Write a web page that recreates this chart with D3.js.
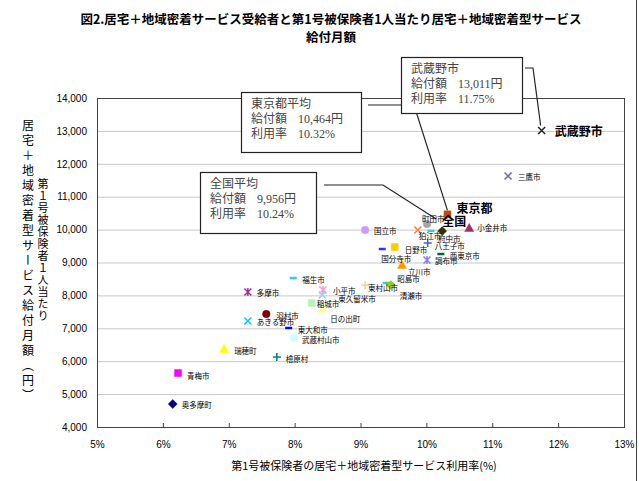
<!DOCTYPE html>
<html>
<head>
<meta charset="utf-8">
<script src="https://cdn.jsdelivr.net/npm/d3@7"></script>
<style>
  body { margin: 0; background: #fff; }
  text { font-family: "Noto Sans CJK JP", "Liberation Sans", sans-serif; }
</style>
</head>
<body>
<div id="chart"></div>
<script>
// municipalities (Tokyo Tama area) + averages
var names = ["武蔵野市","三鷹市","東京都","全国","町田市","狛江市","府中市","八王子市","小金井市","国立市",
             "日野市","国分寺市","西東京市","調布市","立川市","昭島市","清瀬市","東村山市","福生市","多摩市",
             "小平市","東久留米市","稲城市","日の出町","羽村市","あきる野市","東大和市","武蔵村山市","瑞穂町","檜原村",
             "青梅市","奥多摩町"];
// utilisation rate (%)
var rates = [11.75,11.24,10.32,10.24,10.01,9.87,10.07,10.02,10.65,9.07,
             9.52,9.33,10.22,10.01,9.63,9.39,9.46,9.07,7.98,7.29,
             8.43,8.42,8.26,8.42,7.57,7.29,7.91,7.99,6.93,7.73,
             6.23,6.15];
// monthly benefit per insured person (yen)
var amounts = [13011,11629,10464,9956,10170,9988,9960,9593,10049,9988,
               9471,9410,9258,9076,8924,8377,8316,8316,8529,8103,
               8164,8012,7769,7587,7435,7222,7009,6705,6371,6128,
               5641,4699];
var xTicks = [5,6,7,8,9,10,11,12,13];
var yTicks = [4000,5000,6000,7000,8000,9000,10000,11000,12000,13000,14000];

// marker shape / colour for each point
var shapes = ["x","x","square","diamond","circle","x","dash","plus","triangle","circle",
              "square","dash","dash","star","triangle","dash","diamond","plus","dash","star",
              "star","x","square","triangle","circle","x","dash","circle","triangle","plus",
              "square","diamond"];
var colors = ["#222","#6666cc","#c04a10","#333300","#a6a6a6","#ff7c3a","#33cccc","#3366cc","#993366","#cc99ff",
              "#ffcc00","#3333ff","#006633","#8080ff","#ff9900","#33cccc","#99cc00","#ffcc99","#33ccff","#993399",
              "#ff99cc","#99ccff","#b8f0b8","#ffff99","#800000","#00ccff","#0000ff","#ccffff","#ffff00","#008080",
              "#ff00ff","#000080"];
// label offsets from the marker
var labelDx = [13,10,9,0,-5,1,7,7,8,9, 10,-1,9,8,6,11,9,3,9,9, 10,16,5,8,10,9,9,8,10,9, 9,9];
var labelDy = [0,0,-7,-11,-6,6,8,3,0,1, 2,9,1,1,6,-4,10,2,2,0, 0,3,1,10,2,1,1,1,2,2, 2,0];
var boldLabels = ["武蔵野市","東京都","全国"];

var W = 639, H = 481;
var svg = d3.select("#chart").append("svg")
    .attr("width", W)
    .attr("height", H);

var plotLeft = 97, plotRight = 624, plotTop = 98, plotBottom = 427;
var x = d3.scaleLinear().domain([5,13]).range([plotLeft,plotRight]);
var y = d3.scaleLinear().domain([4000,14000]).range([plotBottom,plotTop]);

// right edge line of the figure
svg.append("line")
    .attr("x1",636.5).attr("x2",636.5).attr("y1",0).attr("y2",H)
    .attr("stroke","#444").attr("stroke-width",1);

// title
svg.append("text")
    .attr("x",331).attr("y",24)
    .attr("text-anchor","middle")
    .style("font-size","12.5px").style("font-weight","bold")
    .text("図2.居宅＋地域密着サービス受給者と第1号被保険者1人当たり居宅＋地域密着型サービス");
svg.append("text")
    .attr("x",331).attr("y",42)
    .attr("text-anchor","middle")
    .style("font-size","12.5px").style("font-weight","bold")
    .text("給付月額");

// grid lines
svg.append("g")
    .attr("transform","translate(" + plotLeft + ",0)")
    .call(d3.axisLeft(y).tickValues(yTicks).tickSize(-(plotRight-plotLeft)).tickFormat(""))
    .call(function(g){ g.select(".domain").remove(); })
    .selectAll("line").attr("stroke","#c8c8c8");

// y axis labels
svg.append("g")
    .attr("transform","translate(" + plotLeft + ",0)")
    .call(d3.axisLeft(y).tickValues(yTicks).tickSize(0).tickPadding(10).tickFormat(d3.format(",")))
    .call(function(g){ g.select(".domain").remove(); })
    .selectAll("text")
    .style("font-family","Liberation Sans, sans-serif")
    .style("font-size","10px").attr("fill","#000");

// x axis with inward ticks
var xAxis = svg.append("g")
    .attr("transform","translate(0," + plotBottom + ")")
    .call(d3.axisBottom(x).tickValues(xTicks).tickSize(-4).tickPadding(14)
        .tickFormat(function(d){ return d + "%"; }));
xAxis.select(".domain").remove();
xAxis.selectAll("line").attr("stroke","#444");
xAxis.selectAll("text")
    .style("font-family","Liberation Sans Narrow, Liberation Sans, sans-serif")
    .style("font-size","10px").attr("fill","#000");

// plot frame
svg.append("rect")
    .attr("x",plotLeft+0.5).attr("y",plotTop+0.5)
    .attr("width",plotRight-plotLeft).attr("height",plotBottom-plotTop)
    .attr("fill","none").attr("stroke","#444");

// axis titles
svg.append("text")
    .attr("x",364).attr("y",470)
    .attr("text-anchor","middle")
    .style("font-size","11px")
    .text("第1号被保険者の居宅＋地域密着型サービス利用率(%)");

svg.append("text")
    .attr("x",28).attr("y",262)
    .attr("text-anchor","middle")
    .style("writing-mode","vertical-rl")
    .style("text-orientation","upright")
    .style("font-size","12px")
    .style("letter-spacing","3px")
    .text("居宅＋地域密着型サービス給付月額（円）");

svg.append("text")
    .attr("x",43).attr("y",250)
    .attr("text-anchor","middle")
    .style("writing-mode","vertical-rl")
    .style("text-orientation","upright")
    .style("font-size","11px")
    .style("letter-spacing","1px")
    .text("第１号被保険者１人当たり");

// callout lines (drawn behind boxes)
var lineColor = "#222";
var iMusashino = names.indexOf("武蔵野市"),
    iTokyo = names.indexOf("東京都"),
    iZenkoku = names.indexOf("全国");

svg.append("path")
    .attr("d", d3.line()([[368,105],[414,105],[x(rates[iTokyo]), y(amounts[iTokyo]) - 4]]))
    .attr("fill","none").attr("stroke",lineColor).attr("stroke-width",1.2);
svg.append("path")
    .attr("d", d3.line()([[324,185],[383,185],[x(rates[iZenkoku]) - 6, y(amounts[iZenkoku]) - 12]]))
    .attr("fill","none").attr("stroke",lineColor).attr("stroke-width",1.2);
svg.append("path")
    .attr("d", d3.line()([[525,68],[533,68],[x(rates[iMusashino]) - 1, y(amounts[iMusashino]) - 5]]))
    .attr("fill","none").attr("stroke",lineColor).attr("stroke-width",1.2);

// callout boxes
var callouts = [
  {x:401, y:57, w:121, h:56, head:"武蔵野市", amount:"13,011円", rate:"11.75%"},
  {x:241, y:92, w:120, h:60, head:"東京都平均", amount:"10,464円", rate:"10.32%"},
  {x:200, y:172, w:116, h:61, head:"全国平均", amount:"9,956円", rate:"10.24%"}
];
callouts.forEach(function(c){
    svg.append("rect")
        .attr("x",c.x+0.5).attr("y",c.y+0.5).attr("width",c.w).attr("height",c.h)
        .attr("fill","#fff").attr("stroke","#222").attr("stroke-width",1.2);
    var rows = [[c.head, ""], ["給付額", c.amount], ["利用率", c.rate]];
    rows.forEach(function(r,i){
        var t = svg.append("text")
            .attr("y",c.y+16+i*15)
            .style("font-family","Liberation Serif, Noto Sans CJK JP, serif")
            .style("font-size","12px")
            .attr("fill","#444");
        t.append("tspan").attr("x",c.x+10).text(r[0]);
        if (r[1]) t.append("tspan").attr("x",c.x+57).text(r[1]);
    });
});

// marker shapes
function markerPath(shape) {
    switch(shape) {
        case "x": return "M-3.5,-3.5L3.5,3.5M-3.5,3.5L3.5,-3.5";
        case "plus": return "M-4,0L4,0M0,-4L0,4";
        case "star": return "M-3.5,-3.5L3.5,3.5M-3.5,3.5L3.5,-3.5M0,-4L0,4";
        case "dash": return "M-3.5,0L3.5,0";
        case "square": return "M-3.5,-3.5L3.5,-3.5L3.5,3.5L-3.5,3.5Z";
        case "diamond": return "M0,-4.5L4.5,0L0,4.5L-4.5,0Z";
        case "triangle": return "M0,-4.5L4.5,3.5L-4.5,3.5Z";
        case "circle": return d3.symbol(d3.symbolCircle, 45)();
    }
}
var lineShapes = ["x","plus","star","dash"];

var pts = names.map(function(n,i){ return {name:n, rate:rates[i], amount:amounts[i], shape:shapes[i], color:colors[i], i:i}; });

var gPts = svg.append("g");
gPts.selectAll("path")
    .data(pts)
    .enter()
    .append("path")
    .attr("transform", function(d){ return "translate(" + x(d.rate) + "," + y(d.amount) + ")"; })
    .attr("d", function(d){ return markerPath(d.shape); })
    .attr("fill", function(d){ return lineShapes.indexOf(d.shape) >= 0 ? "none" : d.color; })
    .attr("stroke", function(d){ return d.color; })
    .attr("stroke-width", function(d){ return d.shape == "dash" ? 2.5 : (lineShapes.indexOf(d.shape) >= 0 ? 1.5 : 0.5); });

// point labels
gPts.selectAll("text")
    .data(pts)
    .enter()
    .append("text")
    .attr("x", function(d){ return x(d.rate) + labelDx[d.i]; })
    .attr("y", function(d){ return y(d.amount) + labelDy[d.i]; })
    .attr("dominant-baseline","central")
    .style("font-size", function(d){ return boldLabels.indexOf(d.name) >= 0 ? "12px" : "7.5px"; })
    .style("font-weight", function(d){ return boldLabels.indexOf(d.name) >= 0 ? "bold" : "normal"; })
    .attr("fill","#000")
    .text(function(d){ return d.name; });
</script>
</body>
</html>
